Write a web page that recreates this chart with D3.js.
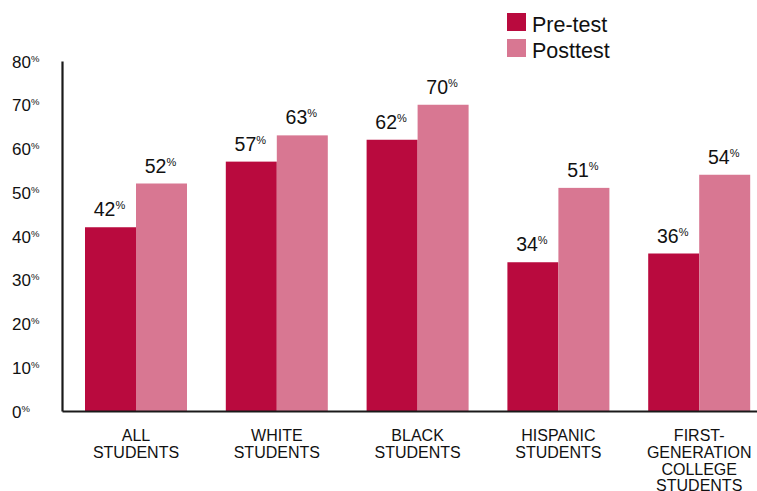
<!DOCTYPE html>
<html>
<head>
<meta charset="utf-8">
<script src="https://cdn.jsdelivr.net/npm/d3@7/dist/d3.min.js"></script>
<style>
  html, body { margin: 0; padding: 0; background: #fff; }
  svg { display: block; font-family: "Liberation Sans", Arial, Helvetica, sans-serif; }
</style>
</head>
<body>
<svg id="chart" width="757" height="491"></svg>
<script>
const categories = [
  ["ALL", "STUDENTS"],
  ["WHITE", "STUDENTS"],
  ["BLACK", "STUDENTS"],
  ["HISPANIC", "STUDENTS"],
  ["FIRST-", "GENERATION", "COLLEGE", "STUDENTS"]
];
const seriesNames = ["Pre-test", "Posttest"];
const preTest  = [42, 57, 62, 34, 36];
const postTest = [52, 63, 70, 51, 54];
const yTicks = [0, 10, 20, 30, 40, 50, 60, 70, 80];
const colors = ["#B90A3E", "#D87792"];

const svg = d3.select("#chart");
const catKeys = categories.map(c => c.join(" "));

const x = d3.scaleBand().domain(catKeys).range([65.6, 769.6])
  .paddingInner(0.2756).paddingOuter(0.1378);
const xs = d3.scaleBand().domain(seriesNames).range([0, x.bandwidth()]).padding(0);
const y = d3.scaleLinear().domain([0, 80]).range([411, 61]);

const data = catKeys.map((k, i) => ({ key: k, lines: categories[i], values: [preTest[i], postTest[i]] }));

// bars
const groups = svg.append("g").selectAll("g").data(data).join("g")
  .attr("transform", d => `translate(${x(d.key)},0)`);
groups.selectAll("rect").data(d => d.values.map((v, j) => ({ s: seriesNames[j], v, j })))
  .join("rect")
  .attr("x", d => xs(d.s))
  .attr("width", xs.bandwidth())
  .attr("y", d => y(d.v))
  .attr("height", d => y(0) - y(d.v))
  .attr("fill", d => colors[d.j]);

// value labels
groups.selectAll("text.val").data(d => d.values.map((v, j) => ({ s: seriesNames[j], v, j })))
  .join("text").attr("class", "val")
  .attr("x", d => xs(d.s) + xs.bandwidth() / 2 - 1)
  .attr("y", d => y(d.v) - 11)
  .attr("text-anchor", "middle")
  .attr("fill", "#111")
  .each(function(d) {
    const t = d3.select(this);
    t.append("tspan").attr("font-size", 19.5).text(d.v);
    t.append("tspan").attr("font-size", 11).attr("dy", -7).text("%");
  });

// y tick labels (left aligned)
svg.append("g").selectAll("text").data(yTicks).join("text")
  .attr("x", 12)
  .attr("y", d => y(d) + 6.5)
  .attr("fill", "#111")
  .each(function(d) {
    const t = d3.select(this);
    t.append("tspan").attr("font-size", 17).text(d);
    t.append("tspan").attr("font-size", 9.5).attr("dy", -6).text("%");
  });

// axes lines
const yAxis = d3.axisLeft(y).tickValues([]).tickSize(0).tickSizeOuter(0);
svg.append("g").attr("transform", "translate(62,0)").call(yAxis)
  .call(g => g.select(".domain").attr("stroke", "#1a1a1a").attr("stroke-width", 2.2));
const xAxisScale = d3.scaleLinear().domain([0, 1]).range([62, 757]);
const xAxis = d3.axisBottom(xAxisScale).tickValues([]).tickSize(0).tickSizeOuter(0);
svg.append("g").attr("transform", "translate(0,411)").call(xAxis)
  .call(g => g.select(".domain").attr("stroke", "#1a1a1a").attr("stroke-width", 2.2));

// category labels
svg.append("g").selectAll("text").data(data).join("text")
  .attr("transform", d => `translate(${x(d.key) + x.bandwidth() / 2},441)`)
  .attr("text-anchor", "middle")
  .attr("font-size", 16)
  .attr("fill", "#111")
  .each(function(d) {
    const t = d3.select(this);
    d.lines.forEach((ln, i) => {
      t.append("tspan").attr("x", 0).attr("dy", i === 0 ? 0 : 16.8).text(ln);
    });
  });

// legend
const leg = svg.append("g").selectAll("g").data(seriesNames).join("g")
  .attr("transform", (d, i) => `translate(507,${13 + i * 26})`);
leg.append("rect").attr("width", 19).attr("height", 18).attr("fill", (d, i) => colors[i]);
leg.append("text").attr("x", 25).attr("y", 18.5).attr("font-size", 21.5).attr("fill", "#111").text(d => d);
</script>
</body>
</html>
